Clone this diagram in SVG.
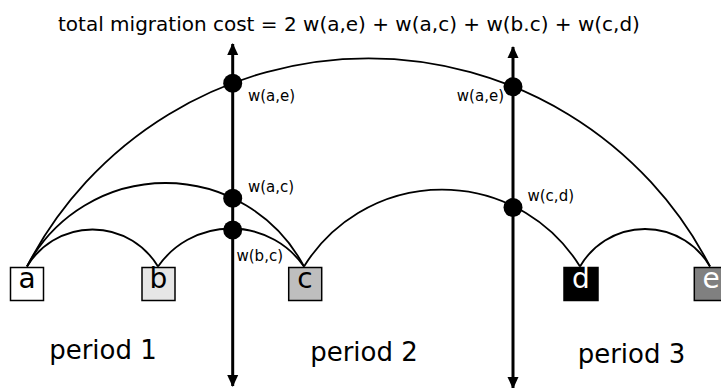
<svg xmlns="http://www.w3.org/2000/svg" width="721" height="388" viewBox="0 0 721 388">
<style>
text{font-family:"DejaVu Sans","Liberation Sans",sans-serif;fill:#000}
.box{stroke:#000;stroke-width:1.5}
.nl{font-size:28px;text-anchor:middle}
.arc{fill:none;stroke:#000;stroke-width:1.8}
.axis{stroke:#000;stroke-width:3;fill:none}
.dot{fill:#000}
.lbl{font-size:15px}
.per{font-size:26px;text-anchor:middle}
</style>
<defs>
<marker id="ah" viewBox="0 0 12 12" refX="11" refY="6" markerWidth="12" markerHeight="12" markerUnits="userSpaceOnUse" orient="auto-start-reverse">
<path d="M0,0.5 L12,6 L0,11.5 Z" fill="#000"/>
</marker>
</defs>
<rect width="721" height="388" fill="#fff"/>
<text x="58" y="31" font-size="20">total migration cost = 2 w(a,e) + w(a,c) + w(b.c) + w(c,d)</text>
<g id="connectors">
<path class="arc" d="M27,266.5 A76.5,76.5 0 0 1 158,266.5"/>
<path class="arc" d="M158,266.5 A89.1,89.1 0 0 1 304,266.5"/>
<path class="arc" d="M27,266.5 A156.6,156.6 0 0 1 304,266.5"/>
<path class="arc" d="M27,266.5 A384.2,384.2 0 0 1 710,266.5"/>
<path class="arc" d="M304,266.5 A162.2,162.2 0 0 1 580,266.5"/>
<path class="arc" d="M580,266.5 A75.1,75.1 0 0 1 710,266.5"/>
</g>
<g id="period-boundaries">
<path class="axis" d="M232.7,150 V44" marker-end="url(#ah)"/>
<path class="axis" d="M232.7,150 V386" marker-end="url(#ah)"/>
<path class="axis" d="M513,150 V47" marker-end="url(#ah)"/>
<path class="axis" d="M513,150 V388" marker-end="url(#ah)"/>
</g>
<g id="cut-points">
<circle class="dot" cx="232.7" cy="83.3" r="9.5"/>
<circle class="dot" cx="232.7" cy="198.3" r="9.5"/>
<circle class="dot" cx="232.7" cy="230" r="9.5"/>
<circle class="dot" cx="513" cy="86.7" r="9.5"/>
<circle class="dot" cx="513" cy="207.5" r="9.5"/>
<text class="lbl" x="248" y="101">w(a,e)</text>
<text class="lbl" x="504" y="101" text-anchor="end">w(a,e)</text>
<text class="lbl" x="248" y="192">w(a,c)</text>
<text class="lbl" x="236.5" y="261">w(b,c)</text>
<text class="lbl" x="527.5" y="201">w(c,d)</text>
</g>
<g id="node-a"><rect class="box" x="10.5" y="267.5" width="33" height="33" fill="#fff"/><text class="nl" x="27" y="288">a</text></g>
<g id="node-b"><rect class="box" x="142" y="267.5" width="33" height="33" fill="#e6e6e6"/><text class="nl" x="158.5" y="288">b</text></g>
<g id="node-c"><rect class="box" x="288.7" y="267.5" width="33" height="33" fill="#bebebe"/><text class="nl" x="305" y="288">c</text></g>
<g id="node-d"><rect class="box" x="564" y="267.5" width="34" height="33" fill="#000"/><text class="nl" x="581" y="288" style="fill:#fff">d</text></g>
<g id="node-e"><rect class="box" x="694.3" y="267.5" width="33" height="33" fill="#808080"/><text class="nl" x="711" y="288" style="fill:#fff">e</text></g>
<text class="per" x="103" y="359">period 1</text>
<text class="per" x="364" y="361">period 2</text>
<text class="per" x="631.5" y="363">period 3</text>
</svg>
